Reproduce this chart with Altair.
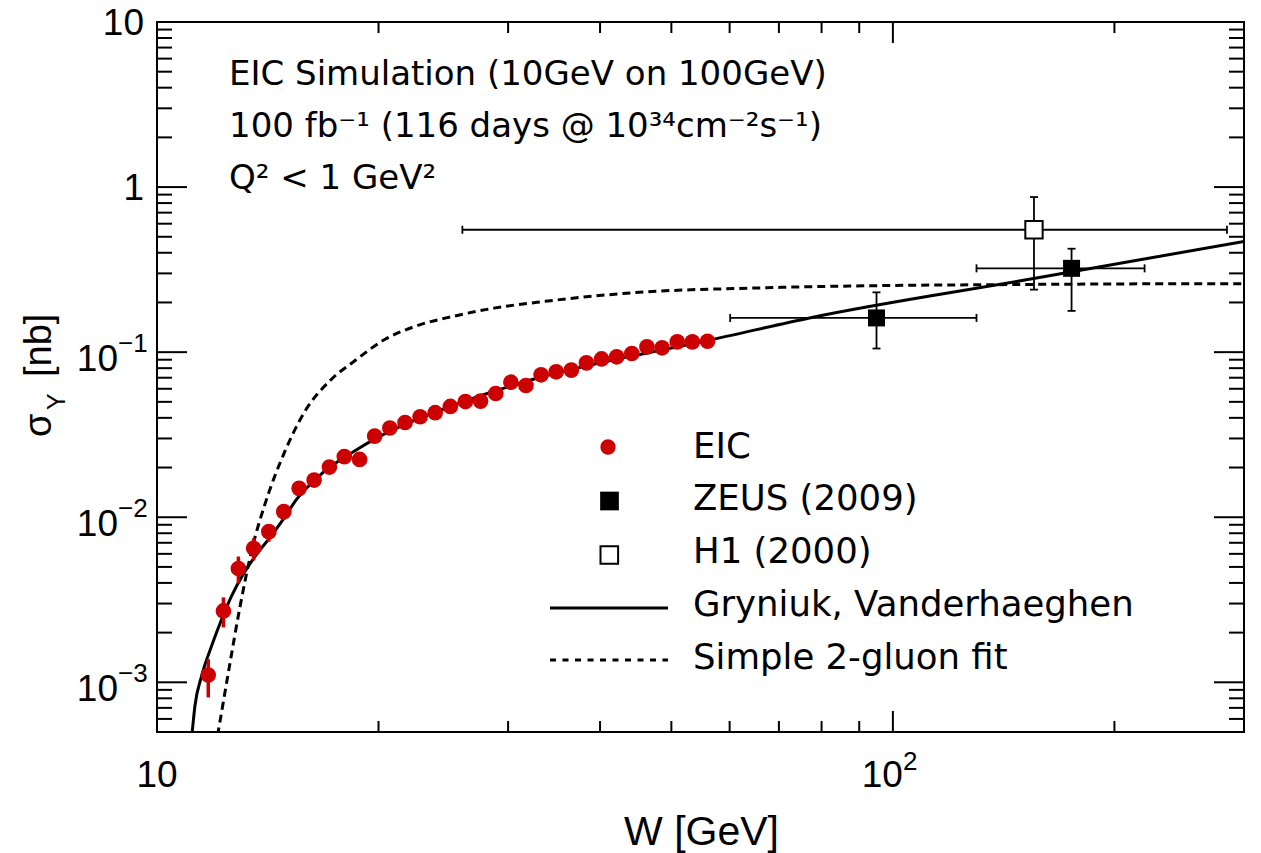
import altair as alt
import pandas as pd

FONT = "Liberation Sans"
TFONT = "DejaVu Sans"
RED = "#cc0000"

# ---------------- data ----------------
EIC_W = [11.74, 12.31, 12.90, 13.53, 14.19, 14.87, 15.60, 16.35, 17.15, 17.97,
         18.85, 19.76, 20.72, 21.73, 22.78, 23.88, 25.04, 26.25, 27.52, 28.86,
         30.26, 31.72, 33.26, 34.87, 36.56, 38.33, 40.19, 42.14, 44.18, 46.32,
         48.57, 50.93, 53.39, 55.99]
EIC_SIGMA = [1.106e-3, 2.706e-3, 4.89e-3, 6.49e-3, 8.18e-3, 1.081e-2, 1.496e-2,
             1.679e-2, 2.013e-2, 2.328e-2, 2.24e-2, 3.10e-2, 3.47e-2, 3.75e-2,
             4.06e-2, 4.30e-2, 4.69e-2, 5.02e-2, 5.05e-2, 5.62e-2, 6.58e-2,
             6.28e-2, 7.29e-2, 7.60e-2, 7.78e-2, 8.61e-2, 9.10e-2, 9.37e-2,
             9.81e-2, 0.1076, 0.1062, 0.1154, 0.1154, 0.1164]
# visible error bars (first six points)
EIC_ERR_LO = [8.1e-4, 2.15e-3, 3.96e-3, 5.48e-3, 7.11e-3, 9.62e-3]
EIC_ERR_HI = [1.38e-3, 3.27e-3, 5.78e-3, 7.45e-3, 9.06e-3, 1.19e-2]

ZEUS_W = [95.0, 174.9]
ZEUS_SIGMA = [0.1612, 0.3219]
ZEUS_W_LO = [60.1, 129.9]
ZEUS_W_HI = [129.9, 219.8]
ZEUS_LO = [0.1052, 0.1778]
ZEUS_HI = [0.2303, 0.4233]

H1_W = [155.5]
H1_SIGMA = [0.5515]
H1_W_LO = [26.0]
H1_W_HI = [284.4]
H1_LO = [0.2392]
H1_HI = [0.870]

GV_W = [11.10, 11.166, 11.261, 11.499, 11.865, 12.242, 12.631, 13.096, 13.656,
        14.236, 14.841, 15.475, 16.642, 18.51, 20.08, 22.05, 24.22, 26.60,
        29.22, 33.11, 37.52, 42.51, 48.18, 55.97, 77.04, 156.0, 300.0]
GV_SIGMA = [4.0e-4, 5.05e-4, 7.21e-4, 1.095e-3, 1.663e-3, 2.412e-3, 3.337e-3,
            4.514e-3, 5.964e-3, 7.524e-3, 9.71e-3, 1.283e-2, 1.793e-2,
            2.504e-2, 3.087e-2, 3.75e-2, 4.43e-2, 5.165e-2, 5.94e-2, 7.02e-2,
            8.07e-2, 9.15e-2, 0.1023, 0.1175, 0.1612, 0.2800, 0.4688]

FIT_W = [12.00, 12.113, 12.525, 12.962, 13.457, 14.015, 14.920, 15.882, 17.248,
         18.53, 20.39, 22.43, 25.28, 28.84, 33.70, 45.25, 65.61, 95.13, 137.9,
         199.8, 300.0]
FIT_SIGMA = [4.0e-4, 5.05e-4, 1.202e-3, 2.850e-3, 6.39e-3, 1.197e-2, 2.504e-2,
             4.373e-2, 6.83e-2, 8.81e-2, 0.1192, 0.1434, 0.1649, 0.1854, 0.2032,
             0.2304, 0.2449, 0.2529, 0.2564, 0.2589, 0.2600]

X_MAJOR = [10, 100]
X_MINOR = [20, 30, 40, 50, 60, 70, 80, 90, 200, 300]
Y_MAJOR = [10, 1, 0.1, 0.01, 0.001]
Y_MINOR = [5e-4, 6e-4, 7e-4, 8e-4, 9e-4,
           2e-3, 3e-3, 4e-3, 5e-3, 6e-3, 7e-3, 8e-3, 9e-3,
           2e-2, 3e-2, 4e-2, 5e-2, 6e-2, 7e-2, 8e-2, 9e-2,
           0.2, 0.3, 0.4, 0.5, 0.6, 0.7, 0.8, 0.9,
           2, 3, 4, 5, 6, 7, 8, 9]

Y_PLAIN_VALUES = [10, 1]
Y_PLAIN_LABELS = ["10", "1"]
Y_EXP_VALUES = [0.1, 0.01, 0.001]
Y_EXP_BASE = ["10", "10", "10"]
Y_EXP_POWER = ["\u22121", "\u22122", "\u22123"]
X_PLAIN_VALUES = [10]
X_PLAIN_LABELS = ["10"]
X_EXP_VALUES = [100]
X_EXP_BASE = ["10"]
X_EXP_POWER = ["2"]

ANNOT = ["EIC Simulation (10GeV on 100GeV)",
         "100 fb\u207b\u00b9 (116 days @ 10\u00b3\u2074cm\u207b\u00b2s\u207b\u00b9)",
         "Q\u00b2 < 1 GeV\u00b2"]
LEGEND = ["EIC", "ZEUS (2009)", "H1 (2000)", "Gryniuk, Vanderhaeghen",
          "Simple 2-gluon fit"]

# ---------------- chart ----------------
WP, HP = 1087, 710
xs = alt.Scale(type="log", domain=[10, 300], nice=False)
ys = alt.Scale(type="log", domain=[5e-4, 10], nice=False)


def X(f):
    return alt.X(f, type="quantitative", scale=xs, axis=None)


def Y(f):
    return alt.Y(f, type="quantitative", scale=ys, axis=None)


DUMMY = pd.DataFrame({"d": [0]})


def txt(s, x, y, size, align="left", angle=0, font=FONT):
    return alt.Chart(DUMMY).mark_text(
        text=s, align=align, baseline="alphabetic", fontSize=size, font=font,
        color="black", angle=angle
    ).encode(x=alt.value(x), y=alt.value(y))


layers = []

# curves
fit_df = pd.DataFrame({"W": FIT_W, "s": FIT_SIGMA})
gv_df = pd.DataFrame({"W": GV_W, "s": GV_SIGMA})
layers.append(alt.Chart(fit_df).mark_line(
    color="black", strokeWidth=3, strokeDash=[8, 5], clip=True,
    interpolate="monotone").encode(x=X("W"), y=Y("s")))
layers.append(alt.Chart(gv_df).mark_line(
    color="black", strokeWidth=3, clip=True,
    interpolate="monotone").encode(x=X("W"), y=Y("s")))

# EIC
eic_err = pd.DataFrame({"W": EIC_W[:6], "lo": EIC_ERR_LO, "hi": EIC_ERR_HI})
layers.append(alt.Chart(eic_err).mark_rule(color=RED, strokeWidth=3.5).encode(
    x=X("W"), y=Y("lo"), y2=alt.Y2("hi:Q")))
eic_df = pd.DataFrame({"W": EIC_W, "s": EIC_SIGMA})
layers.append(alt.Chart(eic_df).mark_circle(
    color=RED, size=245, opacity=1).encode(x=X("W"), y=Y("s")))

# HERA data with error bars
for (w, s, wl, wh, lo, hi) in [
        (ZEUS_W, ZEUS_SIGMA, ZEUS_W_LO, ZEUS_W_HI, ZEUS_LO, ZEUS_HI),
        (H1_W, H1_SIGMA, H1_W_LO, H1_W_HI, H1_LO, H1_HI)]:
    d = pd.DataFrame({"W": w, "s": s, "wl": wl, "wh": wh, "lo": lo, "hi": hi})
    layers.append(alt.Chart(d).mark_rule(color="black", strokeWidth=1.8).encode(
        x=X("wl"), x2=alt.X2("wh:Q"), y=Y("s")))
    layers.append(alt.Chart(d).mark_rule(color="black", strokeWidth=1.8).encode(
        x=X("W"), y=Y("lo"), y2=alt.Y2("hi:Q")))
    for f in ["wl", "wh"]:
        layers.append(alt.Chart(d).mark_tick(
            orient="vertical", color="black", size=8, thickness=1.8,
            opacity=1).encode(x=X(f), y=Y("s")))
    for f in ["lo", "hi"]:
        layers.append(alt.Chart(d).mark_tick(
            orient="horizontal", color="black", size=8, thickness=1.8,
            opacity=1).encode(x=X("W"), y=Y(f)))

zeus_df = pd.DataFrame({"W": ZEUS_W, "s": ZEUS_SIGMA})
layers.append(alt.Chart(zeus_df).mark_square(
    color="black", size=289, opacity=1).encode(x=X("W"), y=Y("s")))
h1_df = pd.DataFrame({"W": H1_W, "s": H1_SIGMA})
layers.append(alt.Chart(h1_df).mark_square(
    fill="white", stroke="black", strokeWidth=2, size=300, opacity=1,
    filled=True).encode(x=X("W"), y=Y("s")))

# inward tick marks on all four sides
tick_style = dict(color="black", strokeWidth=2)
for vals, ln in [(X_MAJOR, 21), (X_MINOR, 11)]:
    d = pd.DataFrame({"v": vals})
    layers.append(alt.Chart(d).mark_rule(**tick_style).encode(
        x=X("v"), y=alt.value(HP), y2=alt.value(HP - ln)))
    layers.append(alt.Chart(d).mark_rule(**tick_style).encode(
        x=X("v"), y=alt.value(0), y2=alt.value(ln)))
for vals, ln in [(Y_MAJOR, 30), (Y_MINOR, 15)]:
    d = pd.DataFrame({"v": vals})
    layers.append(alt.Chart(d).mark_rule(**tick_style).encode(
        y=Y("v"), x=alt.value(0), x2=alt.value(ln)))
    layers.append(alt.Chart(d).mark_rule(**tick_style).encode(
        y=Y("v"), x=alt.value(WP), x2=alt.value(WP - ln)))

# tick labels
LBL = 37
EXP = 26
layers.append(alt.Chart(pd.DataFrame({"v": Y_PLAIN_VALUES, "t": Y_PLAIN_LABELS}))
              .mark_text(align="right", baseline="alphabetic", dy=13,
                         fontSize=LBL, font=FONT, color="black")
              .encode(y=Y("v"), x=alt.value(-13), text="t:N"))
yexp = pd.DataFrame({"v": Y_EXP_VALUES, "b": Y_EXP_BASE, "p": Y_EXP_POWER})
layers.append(alt.Chart(yexp).mark_text(
    align="right", baseline="alphabetic", dy=19, fontSize=LBL, font=FONT,
    color="black").encode(y=Y("v"), x=alt.value(-39), text="b:N"))
layers.append(alt.Chart(yexp).mark_text(
    align="left", baseline="alphabetic", dy=0, fontSize=EXP, font=FONT,
    color="black").encode(y=Y("v"), x=alt.value(-39), text="p:N"))
layers.append(alt.Chart(pd.DataFrame({"v": X_PLAIN_VALUES, "t": X_PLAIN_LABELS}))
              .mark_text(align="center", baseline="alphabetic", fontSize=LBL,
                         font=FONT, color="black")
              .encode(x=X("v"), y=alt.value(765), text="t:N"))
xexp = pd.DataFrame({"v": X_EXP_VALUES, "b": X_EXP_BASE, "p": X_EXP_POWER})
layers.append(alt.Chart(xexp).mark_text(
    align="right", baseline="alphabetic", dx=10, fontSize=LBL, font=FONT,
    color="black").encode(x=X("v"), y=alt.value(765), text="b:N"))
layers.append(alt.Chart(xexp).mark_text(
    align="left", baseline="alphabetic", dx=10, fontSize=EXP, font=FONT,
    color="black").encode(x=X("v"), y=alt.value(748), text="p:N"))

# axis titles
layers.append(txt("W [GeV]", 544.5, 823, 41, align="center"))
layers.append(txt("\u03c3", -106.5, 415, 38, angle=270))
layers.append(txt("Y", -92, 388, 25, angle=270))
layers.append(txt("[nb]", -106, 355, 38, angle=270))

# annotation
for line, yy in zip(ANNOT, [63, 115, 167]):
    layers.append(txt(line, 72, yy, 34, font=TFONT))

# legend
layers.append(alt.Chart(DUMMY).mark_circle(color=RED, size=235, opacity=1)
              .encode(x=alt.value(451), y=alt.value(425)))
layers.append(alt.Chart(DUMMY).mark_square(color="black", size=350, opacity=1)
              .encode(x=alt.value(452.5), y=alt.value(479)))
layers.append(alt.Chart(DUMMY).mark_square(
    fill="white", stroke="black", strokeWidth=2, size=310, opacity=1,
    filled=True).encode(x=alt.value(452.3), y=alt.value(533)))
layers.append(alt.Chart(DUMMY).mark_rule(color="black", strokeWidth=3)
              .encode(x=alt.value(393), x2=alt.value(511), y=alt.value(586)))
layers.append(alt.Chart(DUMMY).mark_rule(color="black", strokeWidth=3,
                                         strokeDash=[6, 6.5])
              .encode(x=alt.value(393), x2=alt.value(511), y=alt.value(638)))
for label, yy in zip(LEGEND, [436, 488, 541, 594, 647]):
    layers.append(txt(label, 536, yy, 35.5, font=TFONT))

chart = alt.layer(*layers).properties(
    width=WP, height=HP,
    padding={"left": 157, "top": 22, "right": 17, "bottom": 121},
    autosize=alt.AutoSizeParams(type="none"),
    background="white",
).configure_view(stroke="black", strokeWidth=2)

chart.save("out.html", embed_options={"renderer": "svg", "actions": False})
